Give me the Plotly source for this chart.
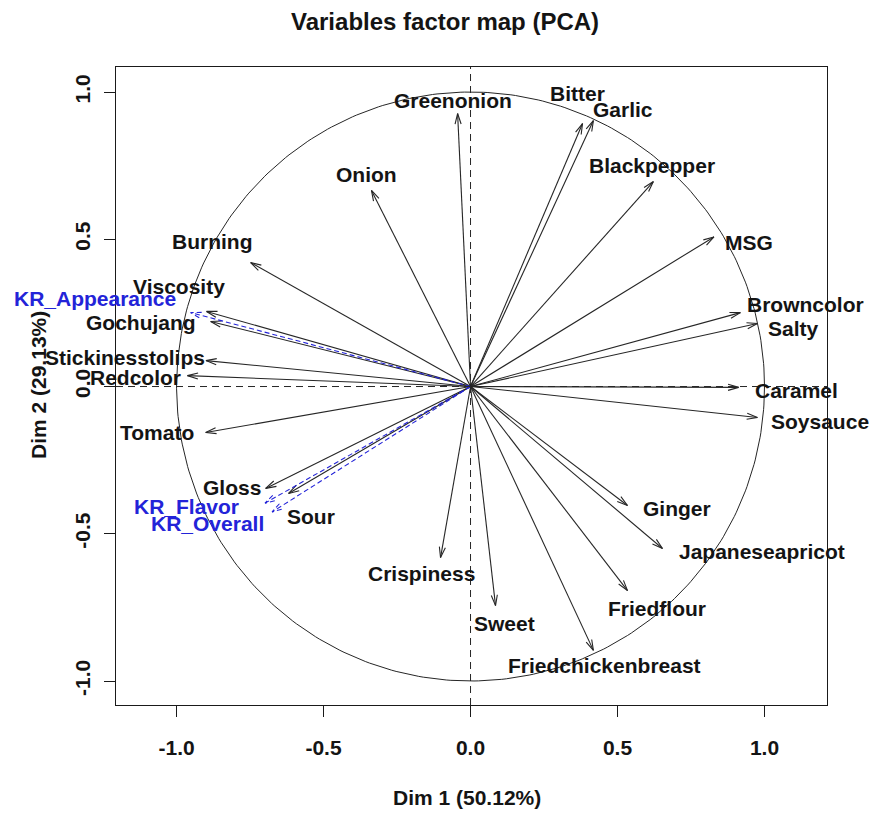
import numpy as np
import plotly.graph_objects as go

# ---------------- data ----------------
title_text = "Variables factor map (PCA)"
x_title = "Dim 1 (50.12%)"
y_title = "Dim 2 (29.13%)"

var_names = ["Greenonion", "Onion", "Bitter", "Garlic", "Blackpepper", "MSG",
             "Browncolor", "Salty", "Caramel", "Soysauce", "Ginger",
             "Japaneseapricot", "Friedflour", "Friedchickenbreast", "Sweet",
             "Crispiness", "Sour", "Gloss", "Tomato", "Redcolor",
             "Stickinesstolips", "Gochujang", "Viscosity", "Burning"]
dim1 = [-0.044, -0.337, 0.381, 0.418, 0.622, 0.828,
        0.918, 0.976, 0.912, 0.976, 0.534,
        0.653, 0.534, 0.418, 0.085,
        -0.102, -0.619, -0.697, -0.901, -0.963,
        -0.900, -0.884, -0.898, -0.748]
dim2 = [0.927, 0.666, 0.893, 0.903, 0.696, 0.508,
        0.251, 0.214, -0.003, -0.105, -0.404,
        -0.550, -0.693, -0.896, -0.744,
        -0.581, -0.363, -0.346, -0.156, 0.037,
        0.088, 0.221, 0.255, 0.421]

sup_names = ["KR_Appearance", "KR_Flavor", "KR_Overall"]
sup_dim1 = [-0.952, -0.699, -0.675]
sup_dim2 = [0.251, -0.396, -0.426]

# label anchor positions (data units)
lab_x = [-0.061, -0.354, 0.364, 0.517, 0.619, 0.946,
         1.139, 1.100, 1.109, 1.190, 0.704,
         0.990, 0.636, 0.456, 0.116,
         -0.167, -0.544, -0.813, -1.068, -1.139,
         -1.177, -1.122, -0.993, -0.878]
lab_y = [0.971, 0.720, 0.995, 0.940, 0.750, 0.489,
         0.278, 0.197, -0.014, -0.119, -0.414,
         -0.560, -0.754, -0.947, -0.805,
         -0.635, -0.441, -0.343, -0.156, 0.031,
         0.098, 0.217, 0.340, 0.492]
sup_lab_x = [-1.276, -0.966, -0.895]
sup_lab_y = [0.299, -0.407, -0.465]

tick_vals = [-1.0, -0.5, 0.0, 0.5, 1.0]
tick_text = ["-1.0", "-0.5", "0.0", "0.5", "1.0"]

# ---------------- layout geometry ----------------
W, H = 873, 814
ML, MR, MT, MB = 116, 46, 67, 109
XR = [-1.206, 1.2126]
YR = [-1.0815, 1.085]
PW, PH = W - ML - MR, H - MT - MB
pxx = PW / (XR[1] - XR[0])
pxy = PH / (YR[1] - YR[0])

LINE_COL = "#262626"
BLUE = "#2323d8"
TXT = "#141414"
FONT = "Liberation Sans, Arial, sans-serif"


def to_paper(x, y):
    return (x - XR[0]) / (XR[1] - XR[0]), (y - YR[0]) / (YR[1] - YR[0])


def arrow_paths(xs, ys, head_px=11.0, ang_deg=16.0):
    X, Y = [], []
    a = np.deg2rad(ang_deg)
    for x, y in zip(xs, ys):
        X += [0, x, None]
        Y += [0, y, None]
        dx, dy = x * pxx, y * pxy
        n = np.hypot(dx, dy)
        bx, by = -dx / n, -dy / n
        pts = []
        for s in (1, -1):
            ca, sa = np.cos(s * a), np.sin(s * a)
            rx = bx * ca - by * sa
            ry = bx * sa + by * ca
            pts.append((x + rx * head_px / pxx, y + ry * head_px / pxy))
        X += [pts[0][0], x, pts[1][0], None]
        Y += [pts[0][1], y, pts[1][1], None]
    return X, Y


fig = go.Figure()

# unit circle
t = np.linspace(0, 2 * np.pi, 400)
fig.add_trace(go.Scatter(x=np.cos(t), y=np.sin(t), mode="lines",
                         line=dict(color=LINE_COL, width=1),
                         hoverinfo="skip", showlegend=False))

# active variable arrows
ax_, ay_ = arrow_paths(dim1, dim2)
fig.add_trace(go.Scatter(x=ax_, y=ay_, mode="lines",
                         line=dict(color=LINE_COL, width=1.1),
                         hoverinfo="skip", showlegend=False))

# supplementary variable arrows (dashed blue)
sx_, sy_ = arrow_paths(sup_dim1, sup_dim2)
fig.add_trace(go.Scatter(x=sx_, y=sy_, mode="lines",
                         line=dict(color=BLUE, width=1.1, dash="5px,3px"),
                         hoverinfo="skip", showlegend=False))

# dashed zero lines
fig.add_shape(type="line", xref="paper", yref="y", x0=0, x1=1, y0=0, y1=0,
              line=dict(color=LINE_COL, width=1, dash="7px,5px"))
fig.add_shape(type="line", xref="x", yref="paper", x0=0, x1=0, y0=0, y1=1,
              line=dict(color=LINE_COL, width=1, dash="7px,5px"))

# labels (paper coordinates so labels outside the box still show)
for name, lx, ly in zip(var_names, lab_x, lab_y):
    px, py = to_paper(lx, ly)
    fig.add_annotation(xref="paper", yref="paper", x=px, y=py, text=name,
                       showarrow=False,
                       font=dict(family=FONT, size=21, color=TXT, weight="bold"),
                       xanchor="center", yanchor="middle")
for name, lx, ly in zip(sup_names, sup_lab_x, sup_lab_y):
    px, py = to_paper(lx, ly)
    fig.add_annotation(xref="paper", yref="paper", x=px, y=py, text=name,
                       showarrow=False,
                       font=dict(family=FONT, size=21, color=BLUE, weight="bold"),
                       xanchor="center", yanchor="middle")

# title and axis titles
fig.add_annotation(xref="paper", yref="paper", x=(445 - ML) / PW,
                   y=1 + (MT - 22) / PH, text=title_text, showarrow=False,
                   font=dict(family=FONT, size=24, color=TXT, weight="bold"),
                   xanchor="center", yanchor="middle")
fig.add_annotation(xref="paper", yref="paper", x=(467 - ML) / PW,
                   y=-(797 - (H - MB)) / PH, text=x_title, showarrow=False,
                   font=dict(family=FONT, size=21, color=TXT, weight="bold"),
                   xanchor="center", yanchor="middle")
fig.add_annotation(xref="paper", yref="paper", x=-(ML - 38) / PW,
                   y=(H - MB - 385) / PH, text=y_title, showarrow=False,
                   textangle=-90,
                   font=dict(family=FONT, size=21, color=TXT, weight="bold"),
                   xanchor="center", yanchor="middle")

axis_common = dict(showgrid=False, zeroline=False, showline=True, mirror=True,
                   linecolor="#1a1a1a", linewidth=1.2, ticks="outside", ticklen=11,
                   tickwidth=1.2, tickcolor="#1a1a1a", tickvals=tick_vals,
                   ticktext=tick_text,
                   tickfont=dict(family=FONT, size=21, color=TXT, weight="bold"))

fig.update_layout(
    width=W, height=H,
    margin=dict(l=ML, r=MR, t=MT, b=MB, autoexpand=False),
    paper_bgcolor="white", plot_bgcolor="white",
    xaxis=dict(range=XR, ticklabelstandoff=13, **axis_common),
    yaxis=dict(range=YR, tickangle=-90, ticklabelstandoff=6, **axis_common),
    showlegend=False,
)

fig.write_html("out.html")
